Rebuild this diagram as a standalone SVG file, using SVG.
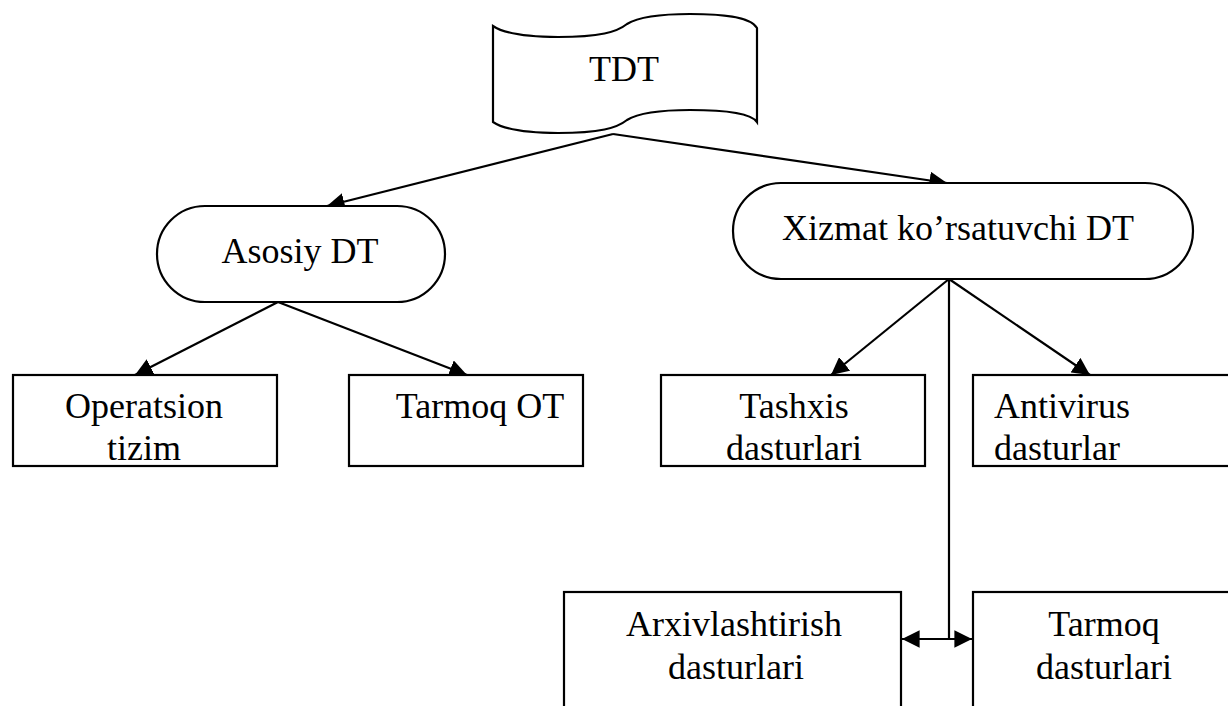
<svg xmlns="http://www.w3.org/2000/svg" width="1228" height="706" viewBox="0 0 1228 706">
<defs>
<style>
.shape{fill:#fff;stroke:#000;stroke-width:2.2}
.lbl{font-family:"Liberation Serif","Times New Roman",serif;font-size:36px;fill:#000;text-anchor:middle}
.lft{text-anchor:start}
.conn{stroke:#000;stroke-width:2.2;fill:none}
</style>
<marker id="ah" viewBox="0 0 10 10" refX="10" refY="5" markerWidth="8" markerHeight="8" markerUnits="strokeWidth" orient="auto-start-reverse">
<path d="M0,0 L10,5 L0,10 z" fill="#000"/>
</marker>
</defs>
<rect width="1228" height="706" fill="#fff"/>
<g id="connectors">
<line class="conn" x1="613" y1="134" x2="327" y2="206" marker-end="url(#ah)"/>
<line class="conn" x1="613" y1="134" x2="947" y2="183" marker-end="url(#ah)"/>
<line class="conn" x1="278" y1="302" x2="135" y2="375" marker-end="url(#ah)"/>
<line class="conn" x1="278" y1="302" x2="467" y2="375" marker-end="url(#ah)"/>
<line class="conn" x1="949" y1="279" x2="831" y2="375" marker-end="url(#ah)"/>
<line class="conn" x1="949" y1="279" x2="1090" y2="375" marker-end="url(#ah)"/>
<line class="conn" x1="949" y1="279" x2="949" y2="639"/>
<line class="conn" x1="902" y1="639" x2="972" y2="639" marker-start="url(#ah)" marker-end="url(#ah)"/>
</g>
<g id="tdt">
<path class="shape" d="M493,26 C505,34 530,37 558,37 C600,37 617,32 627,24 C640,16 670,14 690,14 C720,14 750,16 757,28 L757,122 C750,112 720,110 690,110 C670,110 640,112 627,120 C617,128 600,133 558,133 C530,133 505,130 493,122 Z"/>
<text class="lbl" x="624" y="81">TDT</text>
</g>
<g id="asosiy">
<rect class="shape" x="157" y="206" width="288" height="96" rx="48" ry="48"/>
<text class="lbl" x="300" y="263">Asosiy DT</text>
</g>
<g id="xizmat">
<rect class="shape" x="733" y="183" width="460" height="96" rx="48" ry="48"/>
<text class="lbl" x="958" y="240">Xizmat ko’rsatuvchi DT</text>
</g>
<g id="operatsion">
<rect class="shape" x="13" y="375" width="264" height="91"/>
<text class="lbl" x="144" y="418">Operatsion</text>
<text class="lbl" x="144" y="460">tizim</text>
</g>
<g id="tarmoq-ot">
<rect class="shape" x="349" y="375" width="234" height="91"/>
<text class="lbl" x="480" y="418">Tarmoq OT</text>
</g>
<g id="tashxis">
<rect class="shape" x="661" y="375" width="264" height="91"/>
<text class="lbl" x="794" y="418">Tashxis</text>
<text class="lbl" x="794" y="460">dasturlari</text>
</g>
<g id="antivirus">
<rect class="shape" x="973" y="375" width="270" height="91"/>
<text class="lbl lft" x="994" y="418">Antivirus</text>
<text class="lbl lft" x="994" y="460">dasturlar</text>
</g>
<g id="arxiv">
<rect class="shape" x="564" y="592" width="337" height="130"/>
<text class="lbl" x="734" y="636">Arxivlashtirish</text>
<text class="lbl" x="736" y="679">dasturlari</text>
</g>
<g id="tarmoq-dasturlari">
<rect class="shape" x="973" y="592" width="270" height="130"/>
<text class="lbl" x="1104" y="636">Tarmoq</text>
<text class="lbl" x="1104" y="679">dasturlari</text>
</g>
</svg>
